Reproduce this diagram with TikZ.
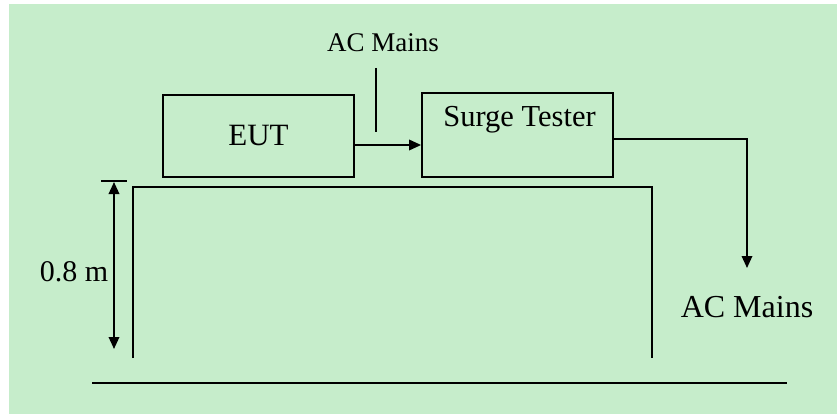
\documentclass[tikz,border=0pt]{standalone}
\usepackage{fontspec}
\setmainfont{Liberation Serif}
\usetikzlibrary{arrows.meta}
\definecolor{bggreen}{RGB}{198,237,203}
\tikzset{
  wire/.style={line width=1.8pt, draw=black},
  tip/.style={-{Triangle[length=12pt,width=10.5pt]}},
  boxst/.style={draw=black, line width=1.8pt, inner sep=0pt},
  lbl/.style={anchor=base, inner sep=0pt, text=black}
}
\begin{document}
\begin{tikzpicture}[x=1pt,y=-1pt]
\useasboundingbox (0,0) rectangle (837,414);
\fill[white] (0,0) rectangle (837,414);
\fill[bggreen] (9,4) rectangle (837,414);
% boxes
\node[boxst, minimum width=191pt, minimum height=82pt, font=\fontsize{31}{34}\selectfont] (eut) at (258.5,136) {EUT};
\node[boxst, minimum width=191pt, minimum height=84pt] (st) at (517.5,135) {};
\node[lbl, font=\fontsize{30.5}{33}\selectfont] (stl) at (519.5,127) {Surge Tester};
% EUT -> Surge Tester
\draw[wire, tip] (eut.east |- 0,145) -- (st.west |- 0,145);
% top AC Mains
\node[lbl, font=\fontsize{27}{30}\selectfont] (acm1) at (383,52) {AC Mains};
\coordinate (v1) at (376,68);
\coordinate (v2) at (376,132);
\draw[wire] (v1) -- (v2);
% Surge tester -> AC Mains
\coordinate (c1) at (747,139);
\coordinate (c2) at (747,268);
\draw[wire, tip] (st.east |- c1) -- (c1) -- (c2);
\node[lbl, font=\fontsize{32}{35}\selectfont] (acm2) at (747,317) {AC Mains};
% table
\coordinate (t1) at (133,358);
\coordinate (t2) at (133,187);
\coordinate (t3) at (652,187);
\coordinate (t4) at (652,358);
\draw[wire] (t1) -- (t2) -- (t3) -- (t4);
% floor
\coordinate (f1) at (92,383);
\coordinate (f2) at (787,383);
\draw[wire] (f1) -- (f2);
% dimension
\coordinate (d1) at (101,181);
\coordinate (d2) at (127,181);
\draw[wire] (d1) -- (d2);
\coordinate (a1) at (114,182);
\coordinate (a2) at (114,349);
\draw[wire, {Triangle[length=12pt,width=10.5pt]}-{Triangle[length=12pt,width=10.5pt]}] (a1) -- (a2);
\node[lbl, font=\fontsize{30}{33}\selectfont] (dim) at (74,281) {0.8 m};
\end{tikzpicture}
\end{document}
